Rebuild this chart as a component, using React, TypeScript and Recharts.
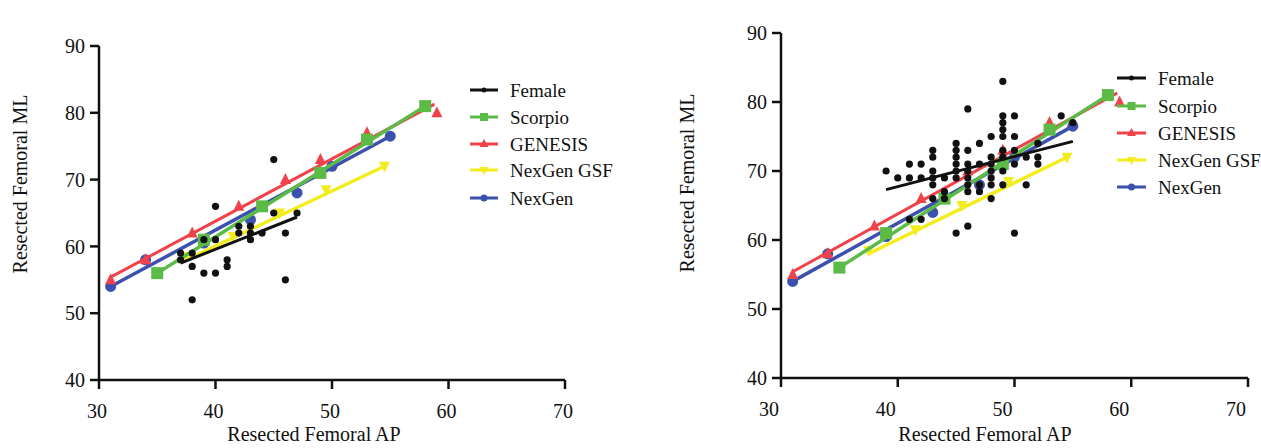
import React from 'react';
import { ScatterChart, Scatter, XAxis, YAxis } from 'recharts';

// --- Data ---

const xTicks = [30, 40, 50, 60, 70];
const yTicks = [40, 50, 60, 70, 80, 90];
const seriesNames = ['Female', 'Scorpio', 'GENESIS', 'NexGen GSF', 'NexGen'];
const axisTitleX = 'Resected Femoral AP';
const axisTitleY = 'Resected Femoral ML';

// implant sizes (same in both panels)
const scorpioAP = [35, 39, 44, 49, 53, 58];
const scorpioML = [56, 61, 66, 71, 76, 81];
const genesisAP = [31, 34, 38, 42, 46, 49, 53, 59];
const genesisML = [55, 58, 62, 66, 70, 73, 77, 80];
const gsfAP = [37.5, 41.5, 45.5, 49.5, 54.5];
const gsfML = [58.5, 61.5, 65, 68.5, 72];
const nexgenAP = [31, 34, 39, 43, 47, 50, 55];
const nexgenML = [54, 58, 60.5, 64, 68, 72, 76.5];

// fitted lines, end points
const scorpioFitAP = [35, 58];
const scorpioFitML = [56, 81];
const genesisFitAP = [31, 58.8];
const genesisFitML = [55.4, 81.3];
const gsfFitAP = [37.5, 54.5];
const gsfFitML = [58, 72];
const nexgenFitAP = [31, 55];
const nexgenFitML = [54, 76.5];

// left panel, female knees
const femaleLeftAP = [45, 40, 45, 47, 42, 42, 43, 43, 43, 44, 46, 39, 40, 37, 38, 37, 38, 41, 41, 39, 40, 46, 38];
const femaleLeftML = [73, 66, 65, 65, 63, 62, 63, 62, 61, 62, 62, 61, 61, 59, 59, 58, 57, 58, 57, 56, 56, 55, 52];
const femaleLeftFitAP = [37, 47];
const femaleLeftFitML = [57.5, 64.4];

// right panel, female knees
const femaleRightAP = [
    39, 40, 41, 41, 42, 42, 41, 42,
    43, 43, 43, 43, 43, 43,
    44, 44, 44,
    45, 45, 45, 45, 45, 45, 45,
    46, 46, 46, 46, 46, 46, 46, 46,
    47, 47, 47, 47,
    48, 48, 48, 48, 48, 48, 48,
    49, 49, 49, 49, 49, 49, 49, 49, 49,
    50, 50, 50, 50, 50,
    51, 51,
    52, 52, 52,
    54, 55,
];
const femaleRightML = [
    70, 69, 71, 69, 71, 69, 63, 63,
    73, 72, 70, 69, 68, 66,
    69, 67, 66,
    74, 73, 72, 71, 70, 69, 61,
    79, 73, 71, 70, 69, 68, 67, 62,
    74, 71, 68, 67,
    75, 72, 71, 70, 69, 68, 66,
    83, 78, 77, 76, 75, 73, 72, 70, 68,
    78, 75, 73, 71, 61,
    72, 68,
    74, 72, 71,
    78, 77,
];
const femaleRightFitAP = [39, 55];
const femaleRightFitML = [67.3, 74.3];

// --- Styles ---

const FONT = '"Liberation Serif", "DejaVu Serif", serif';
const INK = '#111111';
const colors = {
    female: '#111111',
    scorpio: '#5cba47',
    genesis: '#f0424a',
    gsf: '#f3ec1e',
    nexgen: '#3c50ae',
};

const toPoints = (ap: number[], ml: number[]) => ap.map((x, i) => ({ x, y: ml[i] }));

// --- Markers ---

const dot = (r: number, fill: string) => (p: any) => <circle cx={p.cx} cy={p.cy} r={r} fill={fill} />;
const square = (s: number, fill: string) => (p: any) => (
    <rect x={p.cx - s / 2} y={p.cy - s / 2} width={s} height={s} fill={fill} />
);
const triUp = (s: number, fill: string) => (p: any) => (
    <path d={`M${p.cx},${p.cy - s * 0.6}L${p.cx + s / 2},${p.cy + s * 0.4}L${p.cx - s / 2},${p.cy + s * 0.4}Z`} fill={fill} />
);
const triDown = (s: number, fill: string) => (p: any) => (
    <path d={`M${p.cx},${p.cy + s * 0.6}L${p.cx + s / 2},${p.cy - s * 0.4}L${p.cx - s / 2},${p.cy - s * 0.4}Z`} fill={fill} />
);
const noMark = () => <g />;

const tickStyle = { fill: INK, fontSize: 20, fontFamily: FONT, style: { fontFamily: FONT } };

type PanelProps = {
    left: number;
    width: number;
    margin: { top: number; right: number; bottom: number; left: number };
    yAxisWidth: number;
    xTickDx: number;
    femalePts: { x: number; y: number }[];
    femaleFit: { x: number; y: number }[];
    titleX: { x: number; y: number };
    titleY: { x: number; y: number };
};

const Panel = ({ left, width, margin, yAxisWidth, xTickDx, femalePts, femaleFit, titleX, titleY }: PanelProps) => {
    const fit = (ap: number[], ml: number[], color: string, w: number, key: string) => (
        <Scatter
            key={key}
            data={toPoints(ap, ml)}
            line={{ stroke: color, strokeWidth: w }}
            lineType="joint"
            shape={noMark}
            isAnimationActive={false}
        />
    );
    return (
        <div style={{ position: 'absolute', left, top: 0 }}>
            <ScatterChart width={width} height={448} margin={margin}>
                <XAxis
                    type="number"
                    dataKey="x"
                    domain={[30, 70]}
                    ticks={xTicks}
                    allowDataOverflow
                    height={40}
                    tickSize={9}
                    tickMargin={15}
                    axisLine={{ stroke: INK, strokeWidth: 2.5 }}
                    tickLine={{ stroke: INK, strokeWidth: 2.5 }}
                    tick={{ ...tickStyle, dx: xTickDx }}
                />
                <YAxis
                    type="number"
                    dataKey="y"
                    domain={[40, 90]}
                    ticks={yTicks}
                    allowDataOverflow
                    width={yAxisWidth}
                    tickSize={9}
                    tickMargin={5}
                    axisLine={{ stroke: INK, strokeWidth: 2.5 }}
                    tickLine={{ stroke: INK, strokeWidth: 2.5 }}
                    tick={tickStyle}
                />
                {fit(nexgenFitAP, nexgenFitML, colors.nexgen, 3.5, 'nf')}
                <Scatter data={toPoints(nexgenAP, nexgenML)} shape={dot(5.5, colors.nexgen)} isAnimationActive={false} />
                {fit(genesisFitAP, genesisFitML, colors.genesis, 3, 'gf')}
                <Scatter data={toPoints(genesisAP, genesisML)} shape={triUp(11, colors.genesis)} isAnimationActive={false} />
                {fit(gsfFitAP, gsfFitML, colors.gsf, 3.5, 'yf')}
                <Scatter data={toPoints(gsfAP, gsfML)} shape={triDown(11, colors.gsf)} isAnimationActive={false} />
                {fit(scorpioFitAP, scorpioFitML, colors.scorpio, 3.5, 'sf')}
                <Scatter data={toPoints(scorpioAP, scorpioML)} shape={square(12, colors.scorpio)} isAnimationActive={false} />
                <Scatter
                    data={femaleFit}
                    line={{ stroke: colors.female, strokeWidth: 3 }}
                    lineType="joint"
                    shape={noMark}
                    isAnimationActive={false}
                />
                <Scatter data={femalePts} shape={dot(3.6, colors.female)} isAnimationActive={false} />
            </ScatterChart>
            <svg width={width} height={448} style={{ position: 'absolute', left: 0, top: 0, pointerEvents: 'none' }}>
                <text x={titleX.x} y={titleX.y} textAnchor="middle" fontSize={20} fontFamily={FONT} fill={INK}>
                    {axisTitleX}
                </text>
                <text
                    x={titleY.x}
                    y={titleY.y}
                    textAnchor="middle"
                    fontSize={20}
                    fontFamily={FONT}
                    fill={INK}
                    transform={`rotate(-90 ${titleY.x} ${titleY.y})`}
                >
                    {axisTitleY}
                </text>
            </svg>
        </div>
    );
};

const legendMarks = [
    (x: number, y: number) => <circle cx={x} cy={y} r={2.5} fill={colors.female} />,
    (x: number, y: number) => <rect x={x - 4} y={y - 4} width={8} height={8} fill={colors.scorpio} />,
    (x: number, y: number) => <path d={`M${x},${y - 5}L${x + 4.5},${y + 3}L${x - 4.5},${y + 3}Z`} fill={colors.genesis} />,
    (x: number, y: number) => <path d={`M${x},${y + 5}L${x + 4.5},${y - 3}L${x - 4.5},${y - 3}Z`} fill={colors.gsf} />,
    (x: number, y: number) => <circle cx={x} cy={y} r={3.5} fill={colors.nexgen} />,
];
const legendColors = [colors.female, colors.scorpio, colors.genesis, colors.gsf, colors.nexgen];

const Legend = ({ x0, x1, tx, rows }: { x0: number; x1: number; tx: number; rows: number[] }) => (
    <g>
        {seriesNames.map((name, i) => (
            <g key={name}>
                <line x1={x0} x2={x1} y1={rows[i]} y2={rows[i]} stroke={legendColors[i]} strokeWidth={3} />
                {legendMarks[i]((x0 + x1) / 2, rows[i])}
                <text x={tx} y={rows[i] + 7} fontSize={19} fontFamily={FONT} fill={INK}>
                    {name}
                </text>
            </g>
        ))}
    </g>
);

export default function App() {
    return (
        <div style={{ position: 'absolute', left: 0, top: 0, width: 1261, height: 448, background: '#fff', overflow: 'hidden' }}>
            <Panel
                left={0}
                width={640}
                margin={{ top: 46, right: 75, bottom: 28, left: 0 }}
                yAxisWidth={99}
                xTickDx={-2}
                femalePts={toPoints(femaleLeftAP, femaleLeftML)}
                femaleFit={toPoints(femaleLeftFitAP, femaleLeftFitML)}
                titleX={{ x: 314, y: 441 }}
                titleY={{ x: 27, y: 184 }}
            />
            <Panel
                left={640}
                width={621}
                margin={{ top: 33, right: 13, bottom: 30, left: 0 }}
                yAxisWidth={141}
                xTickDx={-12}
                femalePts={toPoints(femaleRightAP, femaleRightML)}
                femaleFit={toPoints(femaleRightFitAP, femaleRightFitML)}
                titleX={{ x: 345, y: 441 }}
                titleY={{ x: 54, y: 183 }}
            />
            <svg width={1261} height={448} style={{ position: 'absolute', left: 0, top: 0, pointerEvents: 'none' }}>
                <Legend x0={470} x1={498} tx={510} rows={[90, 117, 144, 170, 198]} />
                <Legend x0={1117} x1={1146} tx={1158} rows={[78, 106, 133, 160, 187]} />
            </svg>
        </div>
    );
}
